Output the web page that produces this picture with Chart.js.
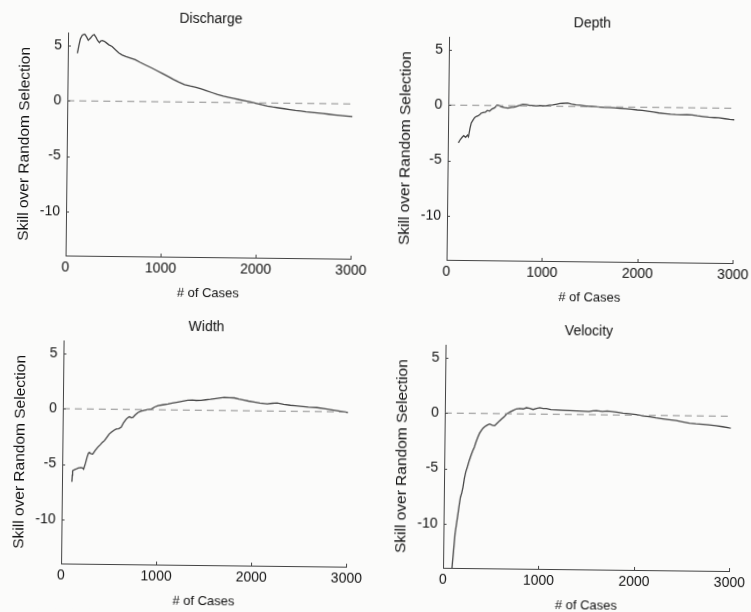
<!DOCTYPE html>
<html>
<head>
<meta charset="utf-8">
<script src="https://cdn.jsdelivr.net/npm/chart.js@4.4.1/dist/chart.umd.min.js"></script>
<style>
  html, body { margin: 0; padding: 0; background: #fbfbfa; overflow: hidden; }
  #page {
    position: relative; width: 751px; height: 612px; background: #fbfbfa;
    /* the scanned page is a little tilted */
    transform: rotate(0.65deg); transform-origin: 375.5px 306px;
  }
  canvas { position: absolute; }
</style>
</head>
<body>
<div id="page">
  <canvas id="discharge"></canvas>
  <canvas id="depth"></canvas>
  <canvas id="width"></canvas>
  <canvas id="velocity"></canvas>
</div>
<script>
var xTicks = [0, 1000, 2000, 3000];
var yTicks = [-10, -5, 0, 5];
var baseline = [0, 0];
var baselineCases = [0, 3000];

var dischargeCases = [100, 115, 130, 150, 175, 195, 213, 237, 260, 275, 295, 310, 330, 345, 360, 380, 400, 430, 464, 500,
  534, 570, 610, 650, 708, 760, 820, 883, 940, 1000, 1057, 1110, 1170, 1231, 1290, 1350, 1406, 1460, 1520, 1580,
  1640, 1700, 1754, 1810, 1870, 1929, 1990, 2050, 2105, 2160, 2220, 2280, 2340, 2400, 2455, 2510, 2570, 2630, 2690,
  2750, 2805, 2870, 2930, 3000];
var dischargeSkill = [4.3, 5.0, 5.6, 5.95, 6.05, 5.8, 5.5, 5.7, 5.95, 6.0, 5.75, 5.5, 5.3, 5.45, 5.48, 5.42, 5.3, 5.1, 4.95, 4.65,
  4.38, 4.2, 4.05, 3.95, 3.78, 3.55, 3.3, 3.05, 2.8, 2.55, 2.3, 2.05, 1.8, 1.58, 1.45, 1.35, 1.2, 1.05, 0.88, 0.72,
  0.58, 0.47, 0.38, 0.27, 0.17, 0.08, -0.05, -0.18, -0.28, -0.36, -0.43, -0.5, -0.58, -0.65, -0.7, -0.76, -0.8, -0.85, -0.9,
  -0.95, -1.0, -1.05, -1.1, -1.15];

var depthCases = [110, 130, 149, 165, 185, 205, 215, 230, 243, 260, 278, 295, 313, 330, 345, 365, 390, 410, 434, 460,
  487, 511, 530, 556, 590, 626, 660, 690, 713, 750, 782, 820, 850, 886, 920, 960, 990, 1030, 1060, 1095,
  1140, 1170, 1200, 1251, 1290, 1338, 1380, 1420, 1470, 1512, 1560, 1600, 1650, 1686, 1740, 1800, 1860, 1920, 1980, 2033,
  2090, 2150, 2207, 2270, 2330, 2381, 2440, 2500, 2555, 2610, 2670, 2729, 2790, 2833, 2900, 2950, 3000];
var depthSkill = [-3.4, -3.1, -2.9, -2.75, -2.9, -2.7, -2.85, -2.1, -1.6, -1.35, -1.1, -1.0, -0.95, -0.85, -0.7, -0.65, -0.6, -0.45, -0.5, -0.3,
  -0.2, 0.05, 0.0, -0.1, -0.18, -0.22, -0.15, -0.12, -0.05, 0.05, 0.15, 0.12, 0.05, 0.05, 0.0, 0.05, 0.02, 0.05, 0.1, 0.12,
  0.2, 0.25, 0.27, 0.3, 0.22, 0.15, 0.12, 0.08, 0.03, 0.02, -0.02, -0.03, -0.05, -0.05, -0.08, -0.12, -0.15, -0.2, -0.25, -0.28,
  -0.35, -0.42, -0.5, -0.55, -0.6, -0.63, -0.64, -0.62, -0.64, -0.72, -0.78, -0.83, -0.86, -0.88, -0.95, -1.0, -1.04];

var widthCases = [104, 108, 111, 130, 146, 170, 198, 215, 226, 245, 261, 275, 285, 300, 320, 345, 372, 400, 420, 442,
  470, 490, 512, 540, 564, 590, 616, 640, 668, 690, 703, 720, 738, 760, 790, 820, 860, 895, 930, 965,
  1000, 1050, 1104, 1150, 1208, 1260, 1312, 1360, 1400, 1451, 1500, 1550, 1590, 1640, 1695, 1750, 1800, 1850, 1904, 1950,
  2008, 2070, 2147, 2200, 2252, 2320, 2391, 2440, 2496, 2580, 2670, 2760, 2844, 2920, 3000];
var widthSkill = [-6.6, -6.0, -5.6, -5.5, -5.45, -5.35, -5.3, -5.35, -5.45, -4.9, -4.35, -4.0, -3.93, -4.05, -4.08, -3.75, -3.45, -3.2, -3.0, -2.84,
  -2.5, -2.25, -2.08, -1.9, -1.78, -1.75, -1.62, -1.2, -0.87, -0.7, -0.66, -0.75, -0.72, -0.5, -0.27, -0.15, -0.06, 0.0, 0.06, 0.25,
  0.37, 0.45, 0.53, 0.62, 0.72, 0.8, 0.89, 0.92, 0.88, 0.9, 0.95, 1.0, 1.05, 1.12, 1.18, 1.17, 1.15, 1.05, 0.96, 0.88,
  0.8, 0.72, 0.65, 0.7, 0.73, 0.63, 0.54, 0.5, 0.46, 0.4, 0.36, 0.25, 0.15, 0.05, -0.05];

var velocityCases = [94, 108, 122, 136, 150, 162, 174, 187, 199, 213, 227, 245, 262, 280, 297, 314, 330, 349, 366, 384,
  400, 419, 445, 471, 497, 523, 540, 558, 575, 593, 620, 645, 680, 715, 750, 784, 820, 854, 890, 924,
  960, 994, 1030, 1064, 1110, 1169, 1230, 1308, 1380, 1448, 1510, 1550, 1587, 1650, 1700, 1727, 1800, 1866, 1930, 2005,
  2070, 2145, 2210, 2284, 2350, 2424, 2490, 2563, 2630, 2703, 2770, 2843, 2910, 2982, 3000];
var velocitySkill = [-14.0, -12.5, -10.9, -10.0, -9.1, -8.3, -7.6, -7.2, -6.7, -5.9, -5.3, -4.8, -4.27, -3.8, -3.4, -3.06, -2.6, -2.15, -1.8, -1.55,
  -1.35, -1.2, -1.05, -0.95, -1.05, -1.1, -0.95, -0.8, -0.65, -0.5, -0.3, -0.05, 0.15, 0.31, 0.45, 0.49, 0.45, 0.56, 0.5, 0.41,
  0.5, 0.57, 0.5, 0.51, 0.42, 0.4, 0.38, 0.35, 0.32, 0.3, 0.28, 0.35, 0.37, 0.3, 0.35, 0.32, 0.25, 0.17, 0.12, 0.05,
  -0.05, -0.12, -0.22, -0.31, -0.38, -0.45, -0.55, -0.67, -0.72, -0.75, -0.8, -0.87, -0.95, -1.05, -1.07];

var textColor = '#111111';
var axisColor = '#444444';
var fontFamily = "'Liberation Sans', Arial, Helvetica, sans-serif";

function points(xs, ys) {
  return xs.map(function(x, i) { return { x: x, y: ys[i] }; });
}

// little tick marks that point into the plot
var innerTicks = {
  id: 'innerTicks',
  afterDraw: function(chart) {
    var ctx = chart.ctx, a = chart.chartArea;
    var xs = chart.scales.x, ys = chart.scales.y;
    ctx.save();
    ctx.strokeStyle = axisColor;
    ctx.lineWidth = 1;
    ctx.beginPath();
    xTicks.forEach(function(v) {
      if (v === 0) return;
      var px = Math.round(xs.getPixelForValue(v)) + 0.5;
      ctx.moveTo(px, a.bottom);
      ctx.lineTo(px, a.bottom - 3);
    });
    yTicks.forEach(function(v) {
      var py = Math.round(ys.getPixelForValue(v)) + 0.5;
      ctx.moveTo(a.left, py);
      ctx.lineTo(a.left + 3, py);
    });
    ctx.stroke();
    ctx.restore();
  }
};

// L, T = top-left of the plot area, W, H = its size
function create_panel(id, title, cases, skill, L, T, W, H) {
  var canvas = document.getElementById(id);
  canvas.width = W + 70;
  canvas.height = H + 68;
  canvas.style.width = (W + 70) + 'px';
  canvas.style.height = (H + 68) + 'px';
  canvas.style.left = (L - 52) + 'px';
  canvas.style.top = (T - 24) + 'px';

  return new Chart(canvas, {
    type: 'line',
    data: {
      datasets: [
        {
          data: points(baselineCases, baseline),
          borderColor: '#8c8c8c',
          borderWidth: 1,
          borderDash: [7, 5],
          pointRadius: 0
        },
        {
          data: points(cases, skill),
          borderColor: '#474747',
          borderWidth: 1.3,
          pointRadius: 0,
          tension: 0
        }
      ]
    },
    options: {
      responsive: false,
      animation: false,
      devicePixelRatio: 1,
      layout: { padding: { left: 0, right: 18, top: 0, bottom: 0 } },
      plugins: {
        legend: { display: false },
        tooltip: { enabled: false },
        title: {
          display: true,
          text: title,
          fullSize: false,
          color: textColor,
          font: { family: fontFamily, size: 14, weight: 'normal' },
          padding: { top: 0, bottom: 7 }
        }
      },
      scales: {
        x: {
          type: 'linear',
          min: 0,
          max: 3000,
          afterBuildTicks: function(s) { s.ticks = xTicks.map(function(v) { return { value: v }; }); },
          afterFit: function(s) { s.height = 44; },
          grid: { display: true, drawOnChartArea: false, drawTicks: false },
          border: { display: true, color: axisColor, width: 1 },
          ticks: {
            padding: 4,
            color: textColor,
            maxRotation: 0,
            autoSkip: false,
            font: { family: fontFamily, size: 14 },
            callback: function(v) { return String(v); }
          },
          title: {
            display: true,
            text: '# of Cases',
            color: textColor,
            font: { family: fontFamily, size: 13 },
            padding: { top: 0, bottom: 0 }
          }
        },
        y: {
          type: 'linear',
          min: -14,
          max: 6.1,
          afterBuildTicks: function(s) { s.ticks = yTicks.map(function(v) { return { value: v }; }); },
          afterFit: function(s) { s.width = 52; },
          grid: { display: true, drawOnChartArea: false, drawTicks: false },
          border: { display: true, color: axisColor, width: 1 },
          ticks: {
            padding: 6,
            color: textColor,
            font: { family: fontFamily, size: 14 },
            callback: function(v) { return String(v); }
          },
          title: {
            display: true,
            text: 'Skill over Random Selection',
            color: textColor,
            font: { family: fontFamily, size: 15.5 },
            padding: { top: 0, bottom: 0 }
          }
        }
      }
    },
    plugins: [innerTicks]
  });
}

create_panel('discharge', 'Discharge', dischargeCases, dischargeSkill, 65, 37, 287, 222);
create_panel('depth', 'Depth', depthCases, depthSkill, 446, 37, 288, 222);
create_panel('width', 'Width', widthCases, widthSkill, 64, 345, 287, 222);
create_panel('velocity', 'Velocity', velocityCases, velocitySkill, 446, 345, 288, 222);
</script>
</body>
</html>
